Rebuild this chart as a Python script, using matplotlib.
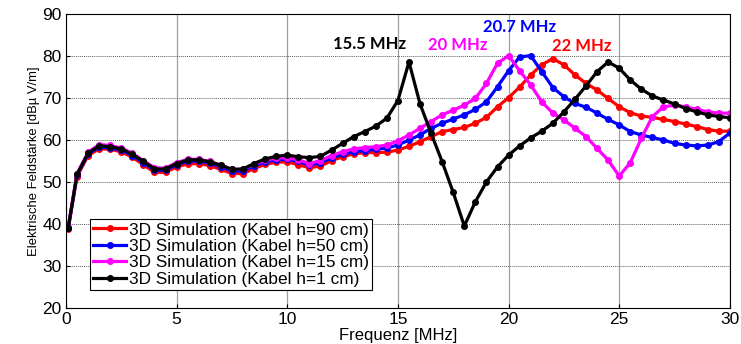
import matplotlib
matplotlib.use("Agg")
import matplotlib.pyplot as plt

freq = [0.1, 0.5, 1.0, 1.5, 2.0, 2.5, 3.0, 3.5, 4.0, 4.5, 5.0, 5.5, 6.0, 6.5, 7.0, 7.5,
        8.0, 8.5, 9.0, 9.5, 10.0, 10.5, 11.0, 11.5, 12.0, 12.5, 13.0, 13.5, 14.0, 14.5,
        15.0, 15.5, 16.0, 16.5, 17.0, 17.5, 18.0, 18.5, 19.0, 19.5, 20.0, 20.5, 21.0,
        21.5, 22.0, 22.5, 23.0, 23.5, 24.0, 24.5, 25.0, 25.5, 26.0, 26.5, 27.0, 27.5,
        28.0, 28.5, 29.0, 29.5, 30.0]

h90 = [38.8, 51.3, 56.3, 57.9, 57.8, 57.2, 55.9, 54.1, 52.3, 52.3, 53.6, 54.3, 54.4, 53.9,
       53.0, 52.0, 52.0, 53.2, 54.2, 54.7, 54.8, 54.1, 53.4, 53.8, 55.1, 56.0, 56.7, 57.0,
       57.0, 57.1, 57.6, 58.5, 59.6, 60.8, 62.0, 62.5, 63.0, 64.0, 65.4, 67.9, 70.1, 72.6,
       75.5, 77.9, 79.4, 77.9, 75.5, 73.5, 71.9, 69.9, 67.9, 66.5, 65.7, 65.4, 64.9, 64.4,
       63.8, 63.2, 62.5, 62.1, 62.1]

h50 = [39.0, 51.7, 56.7, 58.3, 58.1, 57.6, 56.3, 54.6, 52.8, 52.8, 54.1, 54.9, 55.0, 54.5,
       53.6, 52.6, 52.6, 53.8, 54.8, 55.3, 55.4, 54.9, 54.0, 54.6, 55.7, 56.6, 57.2, 57.5,
       57.8, 58.1, 58.8, 60.0, 61.2, 62.8, 64.0, 65.0, 66.0, 67.3, 69.1, 72.7, 76.5, 79.8,
       80.1, 76.3, 72.5, 70.3, 68.7, 67.8, 66.4, 64.9, 63.6, 62.0, 61.2, 60.6, 60.0, 59.2,
       58.8, 58.6, 58.8, 59.6, 61.7]

h15 = [39.2, 52.0, 57.1, 58.9, 58.7, 58.1, 56.8, 55.1, 53.4, 53.3, 54.6, 55.4, 55.4, 54.9,
       54.0, 53.0, 53.0, 54.2, 55.2, 55.7, 55.8, 55.3, 54.4, 55.1, 56.3, 57.2, 57.9, 58.2,
       58.4, 58.8, 59.8, 61.2, 62.8, 64.4, 66.0, 67.1, 68.3, 69.9, 73.5, 78.3, 80.1, 76.5,
       73.1, 69.1, 66.4, 64.8, 62.8, 60.8, 58.0, 55.2, 51.4, 54.6, 60.4, 65.6, 67.9, 68.3,
       67.9, 67.3, 66.7, 66.4, 66.4]

h1 = [39.0, 51.8, 56.9, 58.6, 58.4, 57.9, 56.6, 54.9, 53.1, 53.1, 54.4, 55.2, 55.3, 54.8,
      54.0, 53.0, 53.1, 54.4, 55.5, 56.1, 56.4, 56.0, 55.8, 56.1, 57.6, 59.2, 60.8, 62.0,
      63.3, 65.2, 69.4, 78.6, 68.6, 61.6, 54.8, 47.5, 39.5, 45.3, 50.0, 53.6, 56.4, 58.6,
      60.5, 62.1, 64.0, 66.7, 69.7, 72.9, 76.3, 78.6, 77.1, 74.3, 72.1, 70.5, 69.5, 68.6,
      67.5, 66.7, 66.0, 65.6, 65.3]

labels = ["3D Simulation (Kabel h=90 cm)", "3D Simulation (Kabel h=50 cm)",
          "3D Simulation (Kabel h=15 cm)", "3D Simulation (Kabel h=1 cm)"]
colors = ["#ff0000", "#0000ff", "#ff00ff", "#000000"]

ann_text = ["22 MHz", "20.7 MHz", "20 MHz", "15.5 MHz"]
ann_x = [23.3, 20.5, 17.7, 13.7]
ann_y = [82.4, 86.9, 82.6, 82.9]

plt.rcParams['font.family'] = ['Liberation Sans', 'DejaVu Sans']

fig = plt.figure(figsize=(7.41, 3.44), dpi=100)
ax = fig.add_axes([0.089, 0.105, 0.896, 0.854])

for y, c, lab in zip([h90, h50, h15, h1], colors, labels):
    ax.plot(freq, y, color=c, lw=2.3, marker='o', ms=4, label=lab)

ax.set_xlim(0, 30)
ax.set_ylim(20, 90)
ax.set_xticks([0, 5, 10, 15, 20, 25, 30])
ax.set_yticks([20, 30, 40, 50, 60, 70, 80, 90])
ax.tick_params(labelsize=12.5, direction='in', length=3, pad=3)
ax.yaxis.grid(True, linestyle=(0, (1, 1)), color='#606060', lw=0.7)
ax.xaxis.grid(True, linestyle='-', color='#a0a0a0', lw=0.9)
ax.set_axisbelow(True)

ax.set_xlabel("Frequenz [MHz]", fontsize=12, labelpad=1)
ax.set_ylabel("Elektrische Feldstärke [dBµ V/m]", fontsize=9.4, labelpad=2)

for t, x, y, c in zip(ann_text, ann_x, ann_y, colors):
    ax.text(x, y, t, color=c, fontsize=12, fontweight='bold', ha='center', va='center',
            family=['Lato', 'DejaVu Sans'])

leg = ax.legend(loc='lower left', bbox_to_anchor=(0.036, 0.06), fontsize=12.4,
                frameon=True, fancybox=False, edgecolor='black', framealpha=1,
                borderpad=0.2, labelspacing=0.08, handlelength=1.9, handletextpad=0.15,
                borderaxespad=0)
leg.get_frame().set_linewidth(0.8)

fig.savefig("out.png", dpi=100)
